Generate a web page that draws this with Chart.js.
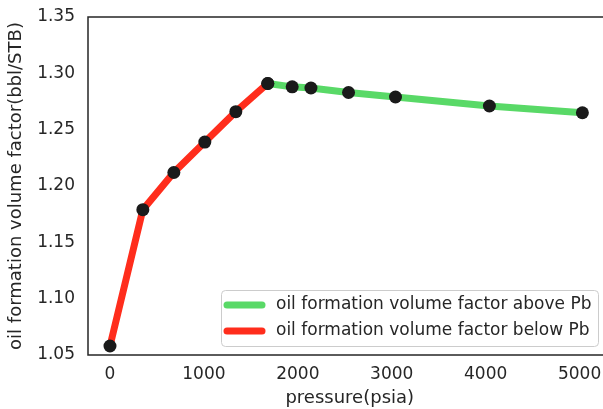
<!DOCTYPE html>
<html>
<head>
<meta charset="utf-8">
<script src="https://cdn.jsdelivr.net/npm/chart.js@4"></script>
<style>
  html, body { margin: 0; padding: 0; background: #fff; overflow: hidden; }
  /* a bit wider than the window: the right edge of the plot is cropped like the original */
  #wrap { width: 618px; height: 409px; }
</style>
</head>
<body>
<div id="wrap"><canvas id="chart"></canvas></div>
<script>
// pressure (psia) and Bo (bbl/STB)
const pressureBelow = [0, 350, 680, 1010, 1340, 1680];
const boBelow = [1.058, 1.179, 1.212, 1.239, 1.266, 1.291];
const pressureAbove = [1680, 1940, 2140, 2540, 3040, 4040, 5030];
const boAbove = [1.291, 1.288, 1.287, 1.283, 1.279, 1.271, 1.265];
const xTicks = [0, 1000, 2000, 3000, 4000, 5000];
const yTicks = [1.05, 1.10, 1.15, 1.20, 1.25, 1.30, 1.35];

const toXY = (xs, ys) => xs.map((x, i) => ({ x: x, y: ys[i] }));
const allPts = toXY(pressureBelow, boBelow).concat(toXY(pressureAbove, boAbove));

const FONT = 'DejaVu Sans';
const TXT = '#262626';

// box around plot + legend in the plot
const framePlugin = {
  id: 'frame',
  afterDatasetsDraw(chart) {
    const { ctx, chartArea: a } = chart;
    ctx.save();
    ctx.strokeStyle = '#262626';
    ctx.lineWidth = 1.5;
    ctx.strokeRect(a.left, a.top, a.right - a.left, a.bottom - a.top);

    // legend
    const items = chart.data.datasets.filter(d => d.showInLegend);
    const bx = 221, by = 290, bw = 377, bh = 56, r = 4;
    ctx.fillStyle = 'rgba(255,255,255,0.8)';
    ctx.strokeStyle = '#cccccc';
    ctx.lineWidth = 1;
    ctx.beginPath();
    ctx.roundRect(bx + 0.5, by + 0.5, bw, bh, r);
    ctx.fill();
    ctx.stroke();
    ctx.font = '17px "' + FONT + '"';
    ctx.textBaseline = 'middle';
    items.forEach((d, i) => {
      const yy = by + 15 + i * 26;
      ctx.strokeStyle = d.borderColor;
      ctx.lineWidth = 7;
      ctx.lineCap = 'round';
      ctx.beginPath();
      ctx.moveTo(227, yy);
      ctx.lineTo(262, yy);
      ctx.stroke();
      ctx.fillStyle = TXT;
      ctx.fillText(d.label, 276, yy);
    });
    ctx.restore();
  }
};

new Chart(document.getElementById('chart'), {
  type: 'line',
  data: {
    datasets: [
      {
        label: 'oil formation volume factor above Pb',
        data: toXY(pressureAbove, boAbove),
        borderColor: '#59d967',
        borderWidth: 7,
        pointRadius: 0,
        order: 2,
        showInLegend: true
      },
      {
        label: 'oil formation volume factor below Pb',
        data: toXY(pressureBelow, boBelow),
        borderColor: '#ff2d1c',
        borderWidth: 7,
        pointRadius: 0,
        order: 1,
        showInLegend: true
      },
      {
        label: 'points',
        data: allPts,
        showLine: false,
        pointRadius: 6.5,
        pointBackgroundColor: '#1a1a1a',
        pointBorderColor: '#1a1a1a',
        pointBorderWidth: 0,
        order: 0
      }
    ]
  },
  options: {
    responsive: true,
    maintainAspectRatio: false,
    animation: false,
    layout: { padding: { top: 17, right: 0, left: 0, bottom: 0 } },
    plugins: {
      legend: { display: false },
      tooltip: { enabled: false }
    },
    scales: {
      x: {
        type: 'linear',
        min: -234,
        max: 5340,
        grid: { display: false, drawTicks: false },
        border: { display: false },
        afterBuildTicks: s => { s.ticks = xTicks.map(v => ({ value: v })); },
        afterFit: s => { s.height = 54; s.paddingLeft = 0; s.paddingRight = 0; },
        ticks: {
          padding: 9,
          color: TXT,
          font: { family: FONT, size: 17 },
          maxRotation: 0,
          callback: v => String(v)
        },
        title: {
          display: true,
          text: 'pressure(psia)',
          color: TXT,
          font: { family: FONT, size: 18 },
          padding: { top: 0, bottom: 0 }
        }
      },
      y: {
        min: 1.05,
        max: 1.35,
        grid: { display: false, drawTicks: false },
        border: { display: false },
        afterBuildTicks: s => { s.ticks = yTicks.map(v => ({ value: v })); },
        afterFit: s => { s.width = 88; s.paddingTop = 0; s.paddingBottom = 0; },
        ticks: {
          padding: 13,
          color: TXT,
          font: { family: FONT, size: 17 },
          callback: v => v.toFixed(2)
        },
        title: {
          display: true,
          text: 'oil formation volume factor(bbl/STB)',
          color: TXT,
          font: { family: FONT, size: 18 },
          padding: { top: 6, bottom: 0 }
        }
      }
    }
  },
  plugins: [framePlugin]
});
</script>
</body>
</html>
